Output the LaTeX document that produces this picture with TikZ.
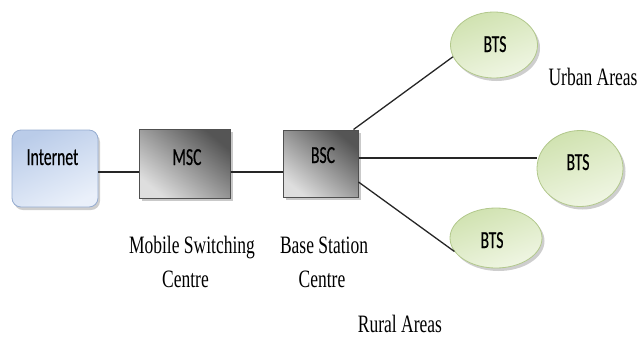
\documentclass[tikz,border=0pt]{standalone}
\usepackage{fontspec}
\newfontfamily\lserif[FakeStretch=0.7]{Liberation Serif}
\newfontfamily\lsans[FakeStretch=0.64, FakeBold=0.4]{Carlito}
\usetikzlibrary{shadows,shapes.geometric,calc}
\definecolor{inetA}{RGB}{186,204,233}
\definecolor{inetB}{RGB}{234,240,250}
\definecolor{inetD}{RGB}{150,172,208}
\definecolor{grayA}{RGB}{85,85,85}
\definecolor{grayB}{RGB}{222,222,222}
\definecolor{grayD}{RGB}{80,80,80}
\definecolor{btsA}{RGB}{208,226,176}
\definecolor{btsB}{RGB}{240,246,228}
\definecolor{btsD}{RGB}{178,200,140}
\tikzset{
  inetbox/.style={draw=inetD, line width=0.8pt, rounded corners=9pt,
    top color=inetA, bottom color=inetB, shading angle=25,
    minimum width=86pt, minimum height=77pt, inner sep=0pt,
    drop shadow={shadow xshift=2pt, shadow yshift=-3pt, fill=gray!55, opacity=0.7}},
  graybox/.style={draw=grayD, line width=1pt,
    top color=grayA, bottom color=grayB, shading angle=-40,
    inner sep=0pt,
    drop shadow={shadow xshift=2.5pt, shadow yshift=-3pt, fill=gray!60, opacity=0.7}},
  btsell/.style={ellipse, draw=btsD, line width=0.8pt,
    top color=btsA, bottom color=btsB, shading angle=20, inner sep=0pt,
    drop shadow={shadow xshift=2.5pt, shadow yshift=-3pt, fill=gray!55, opacity=0.7}},
  sanslab/.style={font=\lsans\fontsize{24.5}{26}\selectfont, anchor=base, inner sep=0pt, text=black},
  seriflab/.style={font=\lserif\fontsize{25}{28}\selectfont, anchor=base, inner sep=0pt},
  link/.style={line width=1.3pt, black!85}
}
\begin{document}
\begin{tikzpicture}[x=1pt,y=-1pt]
\useasboundingbox (0,0) rectangle (642,338);
% boxes
\node[inetbox] (inet) at (55,168.5) {};
\node[graybox, minimum width=91pt, minimum height=69pt] (msc) at (184.5,163.5) {};
\node[graybox, minimum width=75pt, minimum height=67pt] (bsc) at (320.5,163.5) {};
\node[btsell, minimum width=87pt, minimum height=66pt] (bts1) at (494,45) {};
\node[btsell, minimum width=86pt, minimum height=76pt] (bts2) at (580,168.5) {};
\node[btsell, minimum width=92pt, minimum height=60pt] (bts3) at (496,238) {};
% box texts
\node[sanslab] (tinet) at (52.5,165) {Internet};
\node[sanslab] (tmsc) at (187,165) {MSC};
\node[sanslab] (tbsc) at (323,163) {BSC};
\node[sanslab] (tb1) at (495,52) {BTS};
\node[sanslab] (tb2) at (578,170) {BTS};
\node[sanslab] (tb3) at (492,248) {BTS};
% links
\draw[link] ([yshift=-3.5pt]inet.east) -- ([yshift=-8.5pt]msc.west);
\draw[link] ([yshift=-8.5pt]msc.east) -- ([yshift=-8.5pt]bsc.west);
\draw[link] ([xshift=-5pt]bsc.north east) -- (bts1.196);
\coordinate (m1) at ([yshift=5.5pt]bsc.east);
\draw[link] (m1) -- (m1 -| bts2.west);
\draw[link] ([yshift=-18.5pt]bsc.east) -- (bts3.198);
% labels
\node[seriflab] (l1) at (192,253) {Mobile Switching};
\node[seriflab] (l2) at (185.5,287) {Centre};
\node[seriflab] (l3) at (324,253) {Base Station};
\node[seriflab] (l4) at (322,287) {Centre};
\node[seriflab] (l5) at (593,85) {Urban Areas};
\node[seriflab] (l6) at (400,332) {Rural Areas};
\end{tikzpicture}
\end{document}
